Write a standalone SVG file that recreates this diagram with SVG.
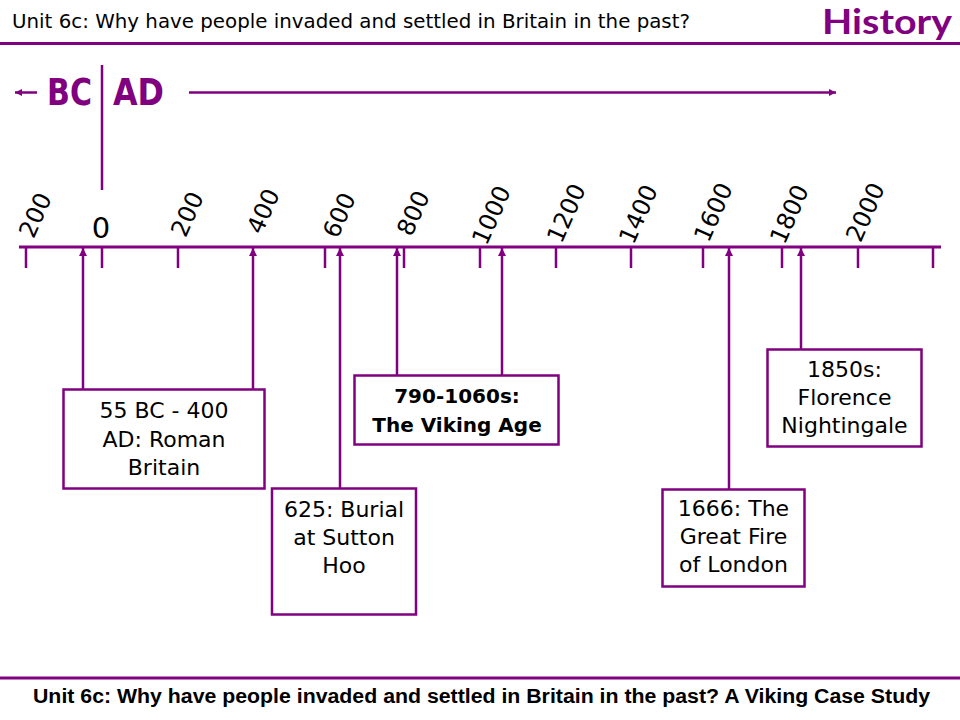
<svg xmlns="http://www.w3.org/2000/svg" width="960" height="720" viewBox="0 0 960 720">
<style>
.pl{stroke:#800080;fill:none;stroke-width:2.5}
.box{stroke:#800080;fill:#fff;stroke-width:2.5}
.t{font-family:"DejaVu Sans","Noto Sans",sans-serif;font-size:22px;fill:#000;text-anchor:middle}
.tb{font-family:"DejaVu Sans","Noto Sans",sans-serif;font-size:20px;font-weight:bold;fill:#000;text-anchor:middle}
.yr{font-family:"DejaVu Sans","Noto Sans",sans-serif;font-size:24px;fill:#000;text-anchor:middle}
.era{font-family:"DejaVu Sans","Noto Sans",sans-serif;font-size:37px;font-weight:bold;fill:#800080}
</style>
<defs>
<marker id="ah" markerUnits="userSpaceOnUse" markerWidth="9" markerHeight="9" refX="8" refY="4" orient="auto">
<path d="M0,0 L8,4 L0,8 z" fill="#800080"/>
</marker>
<marker id="ahs" markerUnits="userSpaceOnUse" markerWidth="8" markerHeight="8" refX="7" refY="3.5" orient="auto">
<path d="M0,0 L7,3.5 L0,7 z" fill="#800080"/>
</marker>
</defs>
<rect width="960" height="720" fill="#fff"/>
<g id="header">
<text x="12" y="28" font-family="DejaVu Sans, sans-serif" font-size="19.5" fill="#000" textLength="678" lengthAdjust="spacingAndGlyphs">Unit 6c: Why have people invaded and settled in Britain in the past?</text>
<text x="822" y="34" font-family="Lato, 'Open Sans', sans-serif" font-size="34" font-weight="bold" fill="#800080" textLength="130" lengthAdjust="spacingAndGlyphs">History</text>
<line x1="0" y1="43.5" x2="960" y2="43.5" stroke="#800080" stroke-width="3"/>
</g>
<g id="footer">
<line x1="0" y1="678" x2="960" y2="678" stroke="#800080" stroke-width="3"/>
<text x="33" y="703" font-family="'Liberation Sans', Arial, sans-serif" font-size="20" font-weight="bold" fill="#000" textLength="897" lengthAdjust="spacingAndGlyphs">Unit 6c: Why have people invaded and settled in Britain in the past? A Viking Case Study</text>
</g>
<g id="era">
<line x1="37" y1="92.5" x2="15" y2="92.5" class="pl" stroke-width="2" marker-end="url(#ahs)"/>
<text x="47" y="105" class="era" textLength="45" lengthAdjust="spacingAndGlyphs">BC</text>
<line x1="102" y1="65" x2="102" y2="190" class="pl" stroke-width="2"/>
<text x="113" y="105" class="era" textLength="51" lengthAdjust="spacingAndGlyphs">AD</text>
<line x1="189" y1="92.5" x2="836" y2="92.5" class="pl" stroke-width="2" marker-end="url(#ahs)"/>
</g>
<g id="timeline">
<line x1="19" y1="247" x2="941" y2="247" stroke="#800080" stroke-width="3"/>
<g class="pl">
<line x1="26" y1="247" x2="26" y2="268"/>
<line x1="102" y1="247" x2="102" y2="268"/>
<line x1="178" y1="247" x2="178" y2="268"/>
<line x1="325" y1="247" x2="325" y2="268"/>
<line x1="404" y1="247" x2="404" y2="268"/>
<line x1="480" y1="247" x2="480" y2="268"/>
<line x1="556" y1="247" x2="556" y2="268"/>
<line x1="631" y1="247" x2="631" y2="268"/>
<line x1="703" y1="247" x2="703" y2="268"/>
<line x1="782" y1="247" x2="782" y2="268"/>
<line x1="858" y1="247" x2="858" y2="268"/>
<line x1="933" y1="247" x2="933" y2="268"/>
</g>
<text class="yr" x="35" y="215" dy="0.36em" transform="rotate(-66 35 215)">200</text>
<text x="101" y="238" font-family="DejaVu Sans, sans-serif" font-size="29" fill="#000" text-anchor="middle">0</text>
<text class="yr" x="187" y="214" dy="0.36em" transform="rotate(-66 187 214)">200</text>
<text class="yr" x="263" y="211" dy="0.36em" transform="rotate(-66 263 211)">400</text>
<text class="yr" x="339" y="215" dy="0.36em" transform="rotate(-66 339 215)">600</text>
<text class="yr" x="413" y="213" dy="0.36em" transform="rotate(-66 413 213)">800</text>
<text class="yr" x="491" y="215" dy="0.36em" transform="rotate(-66 491 215)">1000</text>
<text class="yr" x="566" y="213" dy="0.36em" transform="rotate(-66 566 213)">1200</text>
<text class="yr" x="638" y="214" dy="0.36em" transform="rotate(-66 638 214)">1400</text>
<text class="yr" x="713" y="212" dy="0.36em" transform="rotate(-66 713 212)">1600</text>
<text class="yr" x="789" y="214" dy="0.36em" transform="rotate(-66 789 214)">1800</text>
<text class="yr" x="865" y="212" dy="0.36em" transform="rotate(-66 865 212)">2000</text>
</g>
<g id="connectors" class="pl">
<line x1="83" y1="389" x2="83" y2="248" marker-end="url(#ah)"/>
<line x1="253" y1="389" x2="253" y2="248" marker-end="url(#ah)"/>
<line x1="340" y1="488" x2="340" y2="248" marker-end="url(#ah)"/>
<line x1="397" y1="375" x2="397" y2="248" marker-end="url(#ah)"/>
<line x1="502" y1="375" x2="502" y2="248" marker-end="url(#ah)"/>
<line x1="729" y1="489" x2="729" y2="248" marker-end="url(#ah)"/>
<line x1="801" y1="349" x2="801" y2="248" marker-end="url(#ah)"/>
</g>
<g id="roman">
<rect x="63.5" y="389.5" width="201" height="99" class="box"/>
<text class="t" x="164" y="418">55 BC - 400</text>
<text class="t" x="164" y="447">AD: Roman</text>
<text class="t" x="164" y="475">Britain</text>
</g>
<g id="sutton-hoo">
<rect x="272" y="488.5" width="144" height="126" class="box"/>
<text class="t" x="344" y="517">625: Burial</text>
<text class="t" x="344" y="545">at Sutton</text>
<text class="t" x="344" y="573">Hoo</text>
</g>
<g id="viking">
<rect x="354.5" y="375.5" width="204" height="69" class="box"/>
<text class="tb" x="457" y="403">790-1060s:</text>
<text class="tb" x="457" y="432">The Viking Age</text>
</g>
<g id="great-fire">
<rect x="662.5" y="489.5" width="142" height="97" class="box"/>
<text class="t" x="733.5" y="516">1666: The</text>
<text class="t" x="733.5" y="544">Great Fire</text>
<text class="t" x="733.5" y="572">of London</text>
</g>
<g id="nightingale">
<rect x="767.5" y="349.5" width="154" height="97" class="box"/>
<text class="t" x="844.5" y="377">1850s:</text>
<text class="t" x="844.5" y="405">Florence</text>
<text class="t" x="844.5" y="433">Nightingale</text>
</g>
</svg>
